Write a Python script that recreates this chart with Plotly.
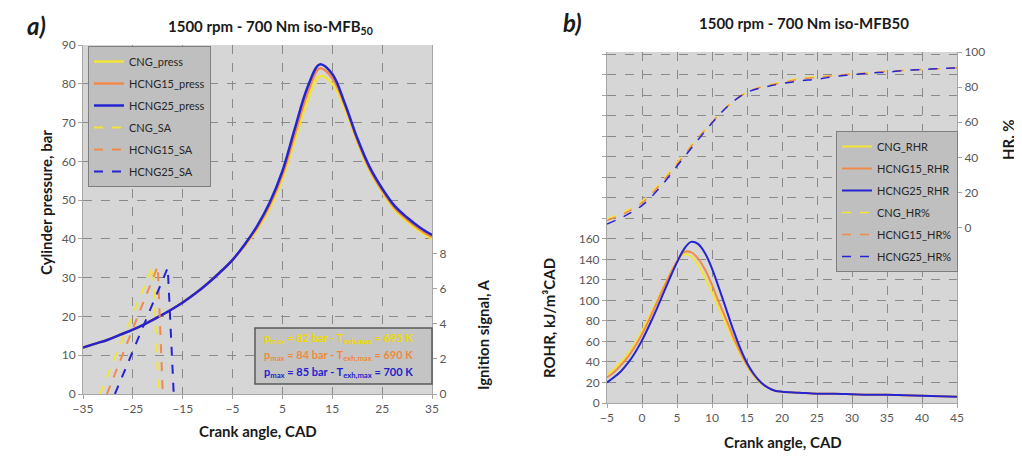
import plotly.graph_objects as go

# the page body has an 8px default margin; the figure is sized to fill the rest
OFF = 8
W, H = 1022 - OFF, 467 - OFF
def px(x): return (x - OFF) / W
def py(y): return 1 - (y - OFF) / H

# ---------------- Panel a) data ----------------
cad_p = [-35, -32.5, -30, -27.5, -25, -22.5, -20, -17.5, -15, -12.5, -10, -7.5, -5, -2.5,
         0, 2.5, 5, 7.5, 10, 12.5, 15, 17.5, 20, 22.5, 25, 27.5, 30, 32.5, 35]
cng_press = [12, 13, 14, 15.3, 16.6, 18.1, 19.8, 21.6, 23.6, 25.9, 28.5, 31.4, 34.6, 38.3,
             42.5, 48, 55.5, 65.5, 75.5, 82, 80, 73.5, 65, 57.5, 52, 47.5, 44.5, 42, 40]
hcng15_press = [12, 13, 14, 15.3, 16.6, 18.1, 19.8, 21.6, 23.6, 25.9, 28.5, 31.4, 34.6, 38.5,
                43, 48.8, 56.5, 67, 77.5, 84, 81.5, 74.5, 65.5, 58, 52.5, 48, 45, 42.5, 40.5]
hcng25_press = [12, 13, 14, 15.3, 16.6, 18.1, 19.8, 21.6, 23.6, 25.9, 28.5, 31.4, 34.6, 38.7,
                43.5, 49.5, 57.5, 68.5, 79, 85, 82.5, 75, 66, 58.5, 53, 48.5, 45.5, 43, 41]

cng_sa_x = [-31.6, -21.0, -19.8]
cng_sa_y = [0, 7.3, 0]
hcng15_sa_x = [-30.2, -20.0, -19.0]
hcng15_sa_y = [0, 7.3, 0]
hcng25_sa_x = [-28.6, -18.0, -16.8]
hcng25_sa_y = [0, 7.2, 0]

# ---------------- Panel b) data ----------------
cad_r = [-5, -4, -3, -2, -1, 0, 1, 2, 3, 4, 5, 6, 7, 8, 9, 10, 11, 12, 13, 14, 15, 16, 17,
         18, 19, 20, 22.5, 25, 27.5, 30, 32.5, 35, 37.5, 40, 42.5, 45]
cng_rhr = [28, 33, 40, 48, 58, 70, 84, 98, 112, 126, 138, 145, 143, 135, 122, 108, 92, 77,
           62, 48, 36, 26, 19, 15, 12, 11, 10, 9, 9, 8.5, 8, 8, 7.5, 7, 6.5, 6]
hcng15_rhr = [25, 30, 37, 45, 55, 67, 81, 96, 111, 125, 138, 147, 147, 141, 130, 115, 98, 82,
              65, 50, 37, 27, 20, 15, 12, 11, 10, 9, 9, 8.5, 8, 8, 7.5, 7, 6.5, 6]
hcng25_rhr = [20, 25, 31, 39, 49, 61, 75, 90, 106, 122, 137, 150, 157, 155, 146, 131, 112, 92,
              72, 54, 39, 28, 20, 15, 12, 11, 10, 9, 9, 8.5, 8, 8, 7.5, 7, 6.5, 6]

cad_hr = [-5, -2.5, 0, 2.5, 5, 7.5, 10, 12.5, 15, 17.5, 20, 22.5, 25, 27.5, 30, 32.5, 35,
          37.5, 40, 42.5, 45]
cng_hr = [5, 9, 15, 25, 37, 49, 60, 70, 77, 80.5, 83, 85, 86, 86.5, 87.5, 88, 89, 89.5, 90, 90.5, 91]
hcng15_hr = [4, 8, 14, 24, 36, 48.5, 60, 70, 77, 80.5, 82.5, 84.5, 85.5, 86.5, 87.5, 88, 89, 89.5, 90, 90.5, 91]
hcng25_hr = [2, 6.5, 12.5, 22.5, 35, 47.5, 59.5, 70, 77, 80, 82, 83.5, 84.5, 86, 87, 88, 88.5, 89.5, 90, 90.5, 91]

YEL = "#f2e43a"
ORA = "#f08a4b"
BLU = "#2424d0"
GRID = "#8a8a8a"
TICKC = "#595959"
FONT = "Lato"

fig = go.Figure()

# panel a traces
for name, y, c in [("CNG_press", cng_press, YEL), ("HCNG15_press", hcng15_press, ORA),
                   ("HCNG25_press", hcng25_press, BLU)]:
    fig.add_trace(go.Scatter(x=cad_p, y=y, mode="lines", name=name, legendgroup=name,
                             line=dict(color=c, width=2.5, shape="spline"),
                             xaxis="x", yaxis="y", legend="legend"))
for name, x, y, c in [("CNG_SA", cng_sa_x, cng_sa_y, YEL), ("HCNG15_SA", hcng15_sa_x, hcng15_sa_y, ORA),
                      ("HCNG25_SA", hcng25_sa_x, hcng25_sa_y, BLU)]:
    fig.add_trace(go.Scatter(x=x, y=y, mode="lines", name=name, legendgroup=name,
                             line=dict(color=c, width=2, dash="dash"),
                             xaxis="x", yaxis="y2", legend="legend"))

# panel b traces
for name, y, c in [("CNG_RHR", cng_rhr, YEL), ("HCNG15_RHR", hcng15_rhr, ORA), ("HCNG25_RHR", hcng25_rhr, BLU)]:
    fig.add_trace(go.Scatter(x=cad_r, y=y, mode="lines", name=name, legendgroup=name,
                             line=dict(color=c, width=2, shape="spline"),
                             xaxis="x2", yaxis="y3", legend="legend2"))
for name, y, c in [("CNG_HR%", cng_hr, YEL), ("HCNG15_HR%", hcng15_hr, ORA), ("HCNG25_HR%", hcng25_hr, BLU)]:
    fig.add_trace(go.Scatter(x=cad_hr, y=y, mode="lines", name=name, legendgroup=name,
                             line=dict(color=c, width=1.5, dash="dash", shape="spline"),
                             xaxis="x2", yaxis="y4", legend="legend2"))

tickfont = dict(family=FONT, size=12, color=TICKC)
common = dict(showgrid=True, gridcolor=GRID, griddash="dash", gridwidth=1, zeroline=False,
              showline=True, linecolor="#a6a6a6", ticks="outside", ticklen=4, tickcolor="#a6a6a6",
              tickfont=tickfont, automargin=False)
sec = dict(showgrid=False, zeroline=False, showline=True, linecolor="#a6a6a6",
           ticks="outside", ticklen=4, tickcolor="#a6a6a6", tickfont=tickfont, automargin=False)

left_dom_x = [px(83), px(432)]
left_dom_y = [py(394), py(45)]
right_dom_x = [px(607), px(957)]
right_dom_y = [py(403), py(52)]

rohr_vals = list(range(0, 341, 20))
rohr_text = [str(v) if v <= 160 else "" for v in rohr_vals]

legfont = dict(family=FONT, size=11, color="#262626")

fig.update_layout(
    template="none",
    width=W, height=H, margin=dict(l=0, r=0, t=0, b=0, pad=0),
    paper_bgcolor="white", plot_bgcolor="#d6d6d6",
    font=dict(family=FONT, color="#262626"),
    xaxis=dict(domain=left_dom_x, range=[-35, 35], tickvals=list(range(-35, 36, 10)), anchor="y", **common),
    yaxis=dict(domain=left_dom_y, range=[0, 90], dtick=10, anchor="x", **common),
    yaxis2=dict(domain=left_dom_y, range=[0, 19.9], tickvals=[0, 2, 4, 6, 8], overlaying="y", side="right",
                anchor="x", **sec),
    xaxis2=dict(domain=right_dom_x, range=[-5, 45], dtick=5, anchor="y3", **common),
    yaxis3=dict(domain=right_dom_y, range=[0, 342], tickvals=rohr_vals, ticktext=rohr_text, anchor="x2", **common),
    yaxis4=dict(domain=right_dom_y, range=[-100, 100], tickvals=[0, 20, 40, 60, 80, 100], overlaying="y3",
                side="right", anchor="x2", **sec),
    legend=dict(x=px(88), y=py(46), xanchor="left", yanchor="top", bgcolor="#bfbfbf",
                bordercolor="#7f7f7f", borderwidth=1, font=legfont, tracegroupgap=3),
    legend2=dict(x=px(836), y=py(131), xanchor="left", yanchor="top", bgcolor="#bfbfbf",
                 bordercolor="#7f7f7f", borderwidth=1, font=legfont, tracegroupgap=3),
    showlegend=True,
)

ann = []
def A(text, x, y, size=14, color="#1a1a1a", angle=0, xanchor="center", yanchor="middle"):
    ann.append(dict(text=text, x=px(x), y=py(y), xref="paper", yref="paper", showarrow=False,
                    font=dict(family=FONT, size=size, color=color), textangle=angle,
                    xanchor=xanchor, yanchor=yanchor))

A("<b><i>a)</i></b>", 36, 26, size=24)
A("<b>1500 rpm - 700 Nm iso-MFB<sub>50</sub></b>", 270, 27, size=15)
A("<b><i>b)</i></b>", 572, 23, size=24)
A("<b>1500 rpm - 700 Nm iso-MFB50</b>", 804, 23, size=15)
A("<b>Cylinder pressure, bar</b>", 46, 203, size=15, angle=-90)
A("<b>Ignition signal, A</b>", 483, 335, size=15, angle=-90)
A("<b>Crank angle, CAD</b>", 258, 431, size=15)
A("<b>ROHR, kJ/m³CAD</b>", 549, 318, size=15, angle=-90)
A("<b>HR, %</b>", 1008, 140, size=15, angle=-90)
A("<b>Crank angle, CAD</b>", 783, 442, size=15)

A("<b>p<sub>max</sub> = 82 bar - T<sub>exh,max</sub> = 695 K</b>", 262, 338, size=11, color="#f0d800", xanchor="left")
A("<b>p<sub>max</sub> = 84 bar - T<sub>exh,max</sub> = 690 K</b>", 262, 355, size=11, color="#ef8a3c", xanchor="left")
A("<b>p<sub>max</sub> = 85 bar - T<sub>exh,max</sub> = 700 K</b>", 262, 372, size=11, color="#2222cc", xanchor="left")

fig.update_layout(annotations=ann, shapes=[
    dict(type="rect", xref="paper", yref="paper", x0=px(255), x1=px(432), y0=py(384), y1=py(328),
         fillcolor="#c4c4c4", line=dict(color="#595959", width=1.5), layer="above"),
])

fig.write_html("out.html")
